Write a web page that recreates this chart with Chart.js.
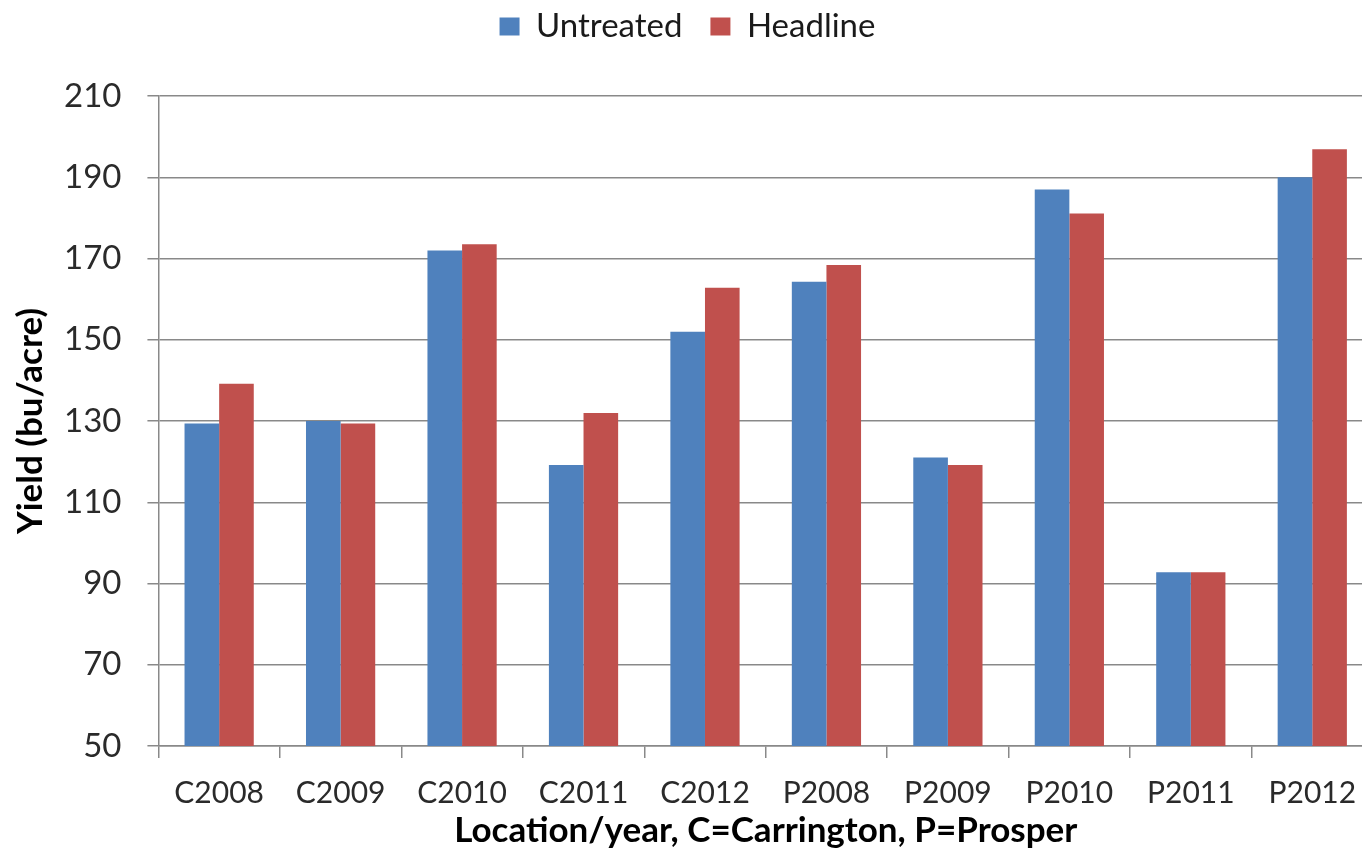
<!DOCTYPE html>
<html>
<head>
<meta charset="utf-8">
<script src="https://cdn.jsdelivr.net/npm/chart.js@4.4.1/dist/chart.umd.min.js"></script>
<style>
  html, body { margin: 0; padding: 0; background: #ffffff; overflow: hidden; }
  #wrap { width: 1376px; height: 865px; }
</style>
</head>
<body>
<div id="wrap"><canvas id="c" width="1376" height="865"></canvas></div>
<script>
const categories = ['C2008', 'C2009', 'C2010', 'C2011', 'C2012', 'P2008', 'P2009', 'P2010', 'P2011', 'P2012'];
const untreated = [129.4, 130, 172, 119.2, 152, 164.3, 121, 187, 92.8, 190];
const headline = [139.2, 129.4, 173.5, 132, 162.8, 168.4, 119.2, 181.1, 92.8, 196.9];
const seriesNames = ['Untreated', 'Headline'];
const yTicks = [50, 70, 90, 110, 130, 150, 170, 190, 210];

const legendSpacer = {
  id: 'legendSpacer',
  beforeInit(chart) {
    const origFit = chart.legend.fit;
    chart.legend.fit = function () {
      origFit.bind(chart.legend)();
      this.height += 43;
    };
  }
};

const FONT = 'Lato, "Open Sans", sans-serif';
const GRID = '#898989';

new Chart(document.getElementById('c'), {
  type: 'bar',
  data: {
    labels: categories,
    datasets: [
      { label: seriesNames[0], data: untreated, backgroundColor: '#4F81BD', borderWidth: 0,
        barPercentage: 1.0, categoryPercentage: 0.57 },
      { label: seriesNames[1], data: headline, backgroundColor: '#C0504D', borderWidth: 0,
        barPercentage: 1.0, categoryPercentage: 0.57 }
    ]
  },
  options: {
    responsive: false,
    devicePixelRatio: 1,
    animation: false,
    layout: { padding: { top: -18, left: 2, right: 3, bottom: 13 } },
    plugins: {
      legend: {
        position: 'top',
        labels: {
          font: { family: FONT, size: 33 },
          color: '#1a1a1a',
          boxWidth: 20,
          boxHeight: 18,
          padding: 28
        }
      },
      tooltip: { enabled: false }
    },
    scales: {
      x: {
        offset: true,
        grid: {
          display: true,
          offset: true,
          drawOnChartArea: false,
          drawTicks: true,
          tickLength: 12,
          color: GRID,
          lineWidth: 1.5
        },
        border: { display: true, color: GRID, width: 1.5 },
        ticks: {
          font: { family: FONT, size: 30 },
          color: '#2a2a2a',
          padding: 17,
          maxRotation: 0,
          autoSkip: false
        },
        title: {
          display: true,
          text: 'Location/year, C=Carrington, P=Prosper',
          font: { family: FONT, size: 35, weight: 'bold' },
          color: '#000000',
          padding: { top: -18, bottom: 0 }
        }
      },
      y: {
        min: 50,
        max: 210,
        afterBuildTicks(axis) { axis.ticks = yTicks.map(v => ({ value: v })); },
        grid: {
          color: GRID,
          lineWidth: 1.5,
          drawTicks: true,
          tickLength: 11
        },
        border: { display: true, color: GRID, width: 1.5 },
        ticks: {
          font: { family: FONT, size: 33 },
          color: '#2a2a2a',
          padding: 26
        },
        title: {
          display: true,
          text: 'Yield (bu/acre)',
          font: { family: FONT, size: 35, weight: 'bold' },
          color: '#000000',
          padding: { top: 8, bottom: -14 }
        }
      }
    }
  },
  plugins: [legendSpacer]
});
</script>
</body>
</html>
